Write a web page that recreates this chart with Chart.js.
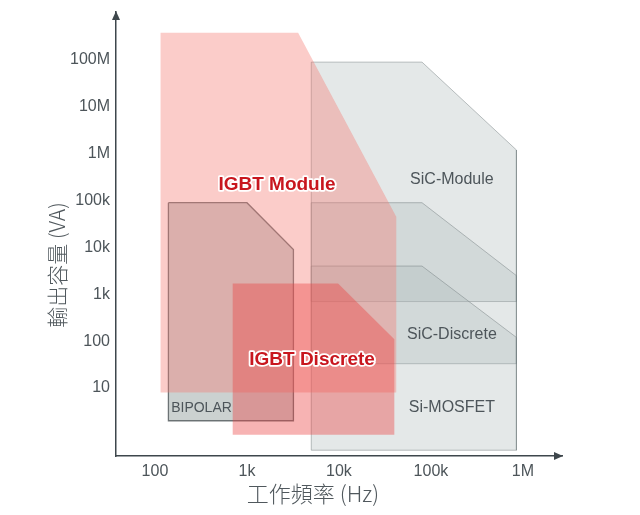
<!DOCTYPE html>
<html>
<head>
<meta charset="utf-8">
<script src="https://cdn.jsdelivr.net/npm/chart.js@4.4.1/dist/chart.umd.min.js"></script>
<style>
  html, body { margin: 0; padding: 0; background: #fff; }
  #wrap { width: 640px; height: 515px; position: relative; }
</style>
</head>
<body>
<div id="wrap"><canvas id="chart"></canvas></div>
<script>
// axis ticks
const xTicks = [100, 1000, 10000, 100000, 1000000];
const xTickLabels = ['100', '1k', '10k', '100k', '1M'];
const yTicks = [10, 100, 1e3, 1e4, 1e5, 1e6, 1e7, 1e8];
const yTickLabels = ['10', '100', '1k', '10k', '100k', '1M', '10M', '100M'];

// regions: corners as frequency (Hz) / output (VA), clockwise from top-left
const sicModuleHz = [5000, 80000, 850000, 850000, 5000];
const sicModuleVA = [9e7, 9e7, 1.2e6, 700, 700];
const sicDiscreteHz = [5000, 80000, 850000, 850000, 5000];
const sicDiscreteVA = [90000, 90000, 2500, 33, 33];
const siMosfetHz = [5000, 80000, 850000, 850000, 5000];
const siMosfetVA = [4000, 4000, 120, 0.47, 0.47];
const igbtModuleHz = [115, 3600, 42000, 42000, 115];
const igbtModuleVA = [3.8e8, 3.8e8, 45000, 8, 8];
const bipolarHz = [140, 1000, 3200, 3200, 140];
const bipolarVA = [90000, 90000, 9000, 2, 2];
const igbtDiscreteHz = [700, 9800, 40000, 40000, 700];
const igbtDiscreteVA = [1700, 1700, 110, 1, 1];

const axisColor = '#3e474c';
const textColor = '#4d555a';

function shape(hz, va) {
  const pts = hz.map((x, i) => ({ x: x, y: va[i] }));
  pts.push(pts[0]); // close the outline
  return pts;
}

function region(label, hz, va, fill, border, width) {
  return {
    label: label,
    data: shape(hz, va),
    showLine: true,
    fill: 'shape',
    backgroundColor: fill,
    borderColor: border,
    borderWidth: width,
    pointRadius: 0,
    tension: 0
  };
}

// first dataset is drawn on top
const datasets = [
  region('IGBT Discrete', igbtDiscreteHz, igbtDiscreteVA, 'rgba(235,66,64,0.4)', 'rgba(0,0,0,0)', 0),
  region('IGBT Module', igbtModuleHz, igbtModuleVA, 'rgba(245,122,112,0.38)', 'rgba(0,0,0,0)', 0),
  region('BIPOLAR', bipolarHz, bipolarVA, 'rgba(125,140,138,0.4)', 'rgba(80,88,90,0.8)', 1.3),
  region('Si-MOSFET', siMosfetHz, siMosfetVA, 'rgba(172,184,182,0.32)', 'rgba(120,130,132,0.5)', 1),
  region('SiC-Discrete', sicDiscreteHz, sicDiscreteVA, 'rgba(172,184,182,0.32)', 'rgba(120,130,132,0.5)', 1),
  region('SiC-Module', sicModuleHz, sicModuleVA, 'rgba(172,184,182,0.32)', 'rgba(120,130,132,0.5)', 1)
];

// axis arrows
const arrows = {
  id: 'arrows',
  afterDraw(chart) {
    const { ctx, chartArea: a } = chart;
    ctx.save();
    ctx.fillStyle = axisColor;
    ctx.beginPath();
    ctx.moveTo(a.left, a.top - 1);
    ctx.lineTo(a.left - 4, a.top + 8);
    ctx.lineTo(a.left + 4, a.top + 8);
    ctx.closePath();
    ctx.fill();
    ctx.beginPath();
    ctx.moveTo(a.right + 1, a.bottom);
    ctx.lineTo(a.right - 8, a.bottom - 4);
    ctx.lineTo(a.right - 8, a.bottom + 4);
    ctx.closePath();
    ctx.fill();
    ctx.restore();
  }
};

// region names
const regionLabels = {
  id: 'regionLabels',
  afterDatasetsDraw(chart) {
    const { ctx } = chart;
    const x = chart.scales.x, y = chart.scales.y;
    const gray = [
      ['SiC-Module', 169000, 275000, '16px "Liberation Sans", Arial, sans-serif', 'center'],
      ['SiC-Discrete', 169000, 135, '16px "Liberation Sans", Arial, sans-serif', 'center'],
      ['Si-MOSFET', 169000, 3.74, '16px "Liberation Sans", Arial, sans-serif', 'center'],
      ['BIPOLAR', 150, 3.74, '14px "Liberation Sans", Arial, sans-serif', 'left']
    ];
    const red = [
      ['IGBT Module', 2120, 215000],
      ['IGBT Discrete', 5100, 39.6]
    ];
    ctx.save();
    ctx.textBaseline = 'middle';
    gray.forEach(([t, hz, va, font, align]) => {
      ctx.font = font;
      ctx.textAlign = align;
      ctx.fillStyle = textColor;
      ctx.fillText(t, x.getPixelForValue(hz), y.getPixelForValue(va));
    });
    ctx.font = 'bold 19px "Liberation Sans", Arial, sans-serif';
    ctx.textAlign = 'center';
    ctx.lineJoin = 'round';
    red.forEach(([t, hz, va]) => {
      const px = x.getPixelForValue(hz), py = y.getPixelForValue(va);
      ctx.strokeStyle = '#ffffff';
      ctx.lineWidth = 3.5;
      ctx.strokeText(t, px, py);
      ctx.fillStyle = '#c8161e';
      ctx.fillText(t, px, py);
    });
    ctx.restore();
  }
};

// axis titles
const axisTitles = {
  id: 'axisTitles',
  afterDraw(chart) {
    const { ctx } = chart;
    ctx.save();
    ctx.fillStyle = '#50585d';
    ctx.textAlign = 'center';
    ctx.textBaseline = 'middle';
    ctx.font = '300 22px "Noto Sans CJK TC", sans-serif';
    ctx.fillText('工作頻率 (Hz)', 313, 494);
    ctx.font = '300 21px "Noto Sans CJK TC", sans-serif';
    ctx.translate(57, 265);
    ctx.rotate(-Math.PI / 2);
    ctx.fillText('輸出容量 (VA)', 0, 0);
    ctx.restore();
  }
};

const tickFont = { family: '"Liberation Sans", Arial, sans-serif', size: 16 };

new Chart(document.getElementById('chart'), {
  type: 'scatter',
  data: { datasets: datasets },
  options: {
    responsive: true,
    maintainAspectRatio: false,
    animation: false,
    layout: { padding: { left: 0, top: 12, right: 78, bottom: 0 } },
    plugins: { legend: { display: false }, tooltip: { enabled: false } },
    scales: {
      x: {
        type: 'logarithmic',
        min: 37.7,
        max: 2.66e6,
        grid: { display: false, drawTicks: false },
        border: { display: true, color: axisColor, width: 1.5 },
        ticks: {
          color: textColor, font: tickFont, padding: 6, autoSkip: false, maxRotation: 0,
          callback: (v) => xTickLabels[xTicks.indexOf(v)]
        },
        afterBuildTicks: (s) => { s.ticks = xTicks.map(v => ({ value: v })); },
        afterFit: (s) => { s.height = 59; s.paddingLeft = 0; s.paddingRight = 0; }
      },
      y: {
        type: 'logarithmic',
        min: 0.354,
        max: 1.057e9,
        grid: { display: false, drawTicks: false },
        border: { display: true, color: axisColor, width: 1.5 },
        ticks: {
          color: textColor, font: tickFont, padding: 6, autoSkip: false,
          callback: (v) => yTickLabels[yTicks.indexOf(v)]
        },
        afterBuildTicks: (s) => { s.ticks = yTicks.map(v => ({ value: v })); },
        afterFit: (s) => { s.width = 116; s.paddingTop = 0; s.paddingBottom = 0; }
      }
    }
  },
  plugins: [regionLabels, arrows, axisTitles]
});
</script>
</body>
</html>
